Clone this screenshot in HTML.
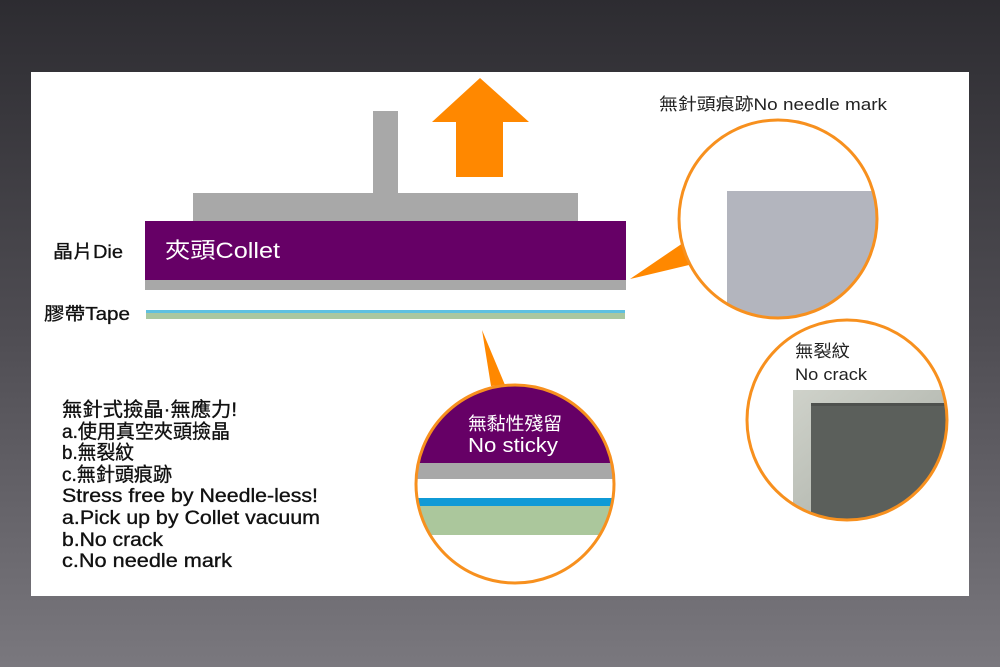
<!DOCTYPE html>
<html><head><meta charset="utf-8"><style>
html,body{margin:0;padding:0;width:1000px;height:667px;overflow:hidden;}
svg{display:block;}
text{font-family:"Liberation Sans","Noto Sans CJK TC",sans-serif;}
</style></head><body>
<svg width="1000" height="667" viewBox="0 0 1000 667" xmlns="http://www.w3.org/2000/svg">
<defs>
<linearGradient id="bg" x1="0" y1="0" x2="0" y2="1">
<stop offset="0" stop-color="#2d2c31"/>
<stop offset="0.5" stop-color="#4f4d53"/>
<stop offset="1" stop-color="#7a787e"/>
</linearGradient>
<clipPath id="c1"><circle cx="778" cy="219" r="99"/></clipPath>
<clipPath id="c2"><circle cx="847" cy="420" r="100"/></clipPath>
<clipPath id="c3"><circle cx="515" cy="484" r="99"/></clipPath>
<linearGradient id="lt" x1="0" y1="0" x2="1" y2="1">
<stop offset="0" stop-color="#cfd2ca"/>
<stop offset="0.5" stop-color="#b9bdb5"/>
<stop offset="1" stop-color="#d3d5cf"/>
</linearGradient>
</defs>
<rect x="0" y="0" width="1000" height="667" fill="url(#bg)"/>
<rect x="31" y="72" width="938" height="524" fill="#ffffff"/>

<!-- collet -->
<rect x="373" y="111" width="25" height="83" fill="#a8a8a8"/>
<rect x="193" y="193" width="385" height="29" fill="#a8a8a8"/>
<rect x="145" y="221" width="481" height="59" fill="#660066"/>
<rect x="145" y="280" width="481" height="10" fill="#a8a8a8"/>
<text x="165" y="258" font-size="22" fill="#ffffff" textLength="115" lengthAdjust="spacingAndGlyphs">夾頭Collet</text>

<!-- tape -->
<rect x="146" y="310" width="479" height="3" fill="#5ec0e0"/>
<rect x="146" y="313" width="479" height="6" fill="#a9c7a0"/>

<!-- arrow -->
<polygon points="480,78 529,122 503,122 503,177 456,177 456,122 432,122" fill="#ff8800"/>

<!-- labels -->
<text x="53" y="258" font-size="18" fill="#111" stroke="#111" stroke-width="0.3" textLength="70" lengthAdjust="spacingAndGlyphs">晶片Die</text>
<text x="44" y="320" font-size="18" fill="#111" stroke="#111" stroke-width="0.3" textLength="86" lengthAdjust="spacingAndGlyphs">膠帶Tape</text>

<!-- circle 1 -->
<polygon points="630,279 683,243 689,265" fill="#ff8800"/>
<circle cx="778" cy="219" r="99" fill="#ffffff"/>
<g clip-path="url(#c1)">
<rect x="727" y="191" width="160" height="140" fill="#b3b5be"/>
</g>
<circle cx="778" cy="219" r="99" fill="none" stroke="#f7901e" stroke-width="3"/>
<text x="659" y="110" font-size="17" fill="#222" textLength="228" lengthAdjust="spacingAndGlyphs">無針頭痕跡No needle mark</text>

<!-- circle 2 -->
<circle cx="847" cy="420" r="100" fill="#ffffff"/>
<g clip-path="url(#c2)">
<rect x="793" y="390" width="170" height="140" fill="url(#lt)"/>
<rect x="811" y="403" width="150" height="130" fill="#5b5f5b"/>
<rect x="811" y="403" width="150" height="3" fill="#4e514e"/>
</g>
<circle cx="847" cy="420" r="100" fill="none" stroke="#f7901e" stroke-width="3"/>
<text x="795" y="357" font-size="17" fill="#222" textLength="55" lengthAdjust="spacingAndGlyphs">無裂紋</text>
<text x="795" y="380" font-size="17" fill="#222" textLength="72" lengthAdjust="spacingAndGlyphs">No crack</text>

<!-- circle 3 -->
<polygon points="482,330 491,386 505,385" fill="#ff8800"/>
<circle cx="515" cy="484" r="99" fill="#ffffff"/>
<g clip-path="url(#c3)">
<rect x="410" y="380" width="210" height="83" fill="#660066"/>
<rect x="410" y="463" width="210" height="16" fill="#a8a8a8"/>
<rect x="410" y="498" width="210" height="8" fill="#0f9ad6"/>
<rect x="410" y="506" width="210" height="29" fill="#abc79c"/>
</g>
<circle cx="515" cy="484" r="99" fill="none" stroke="#f7901e" stroke-width="3"/>
<text x="468" y="430" font-size="18" fill="#ffffff" textLength="94" lengthAdjust="spacingAndGlyphs">無黏性殘留</text>
<text x="468" y="452" font-size="20" fill="#ffffff" textLength="90" lengthAdjust="spacingAndGlyphs">No sticky</text>

<!-- left text block -->
<g font-size="19.5" fill="#111" stroke="#111" stroke-width="0.35">
<text x="62" y="416" textLength="175" lengthAdjust="spacingAndGlyphs">無針式撿晶·無應力!</text>
<text x="62" y="438" textLength="168" lengthAdjust="spacingAndGlyphs">a.使用真空夾頭撿晶</text>
<text x="62" y="459" textLength="72" lengthAdjust="spacingAndGlyphs">b.無裂紋</text>
<text x="62" y="481" textLength="110" lengthAdjust="spacingAndGlyphs">c.無針頭痕跡</text>
<text x="62" y="502" textLength="256" lengthAdjust="spacingAndGlyphs">Stress free by Needle-less!</text>
<text x="62" y="524" textLength="258" lengthAdjust="spacingAndGlyphs">a.Pick up by Collet vacuum</text>
<text x="62" y="546" textLength="101" lengthAdjust="spacingAndGlyphs">b.No crack</text>
<text x="62" y="567" textLength="170" lengthAdjust="spacingAndGlyphs">c.No needle mark</text>
</g>
</svg>
</body></html>
